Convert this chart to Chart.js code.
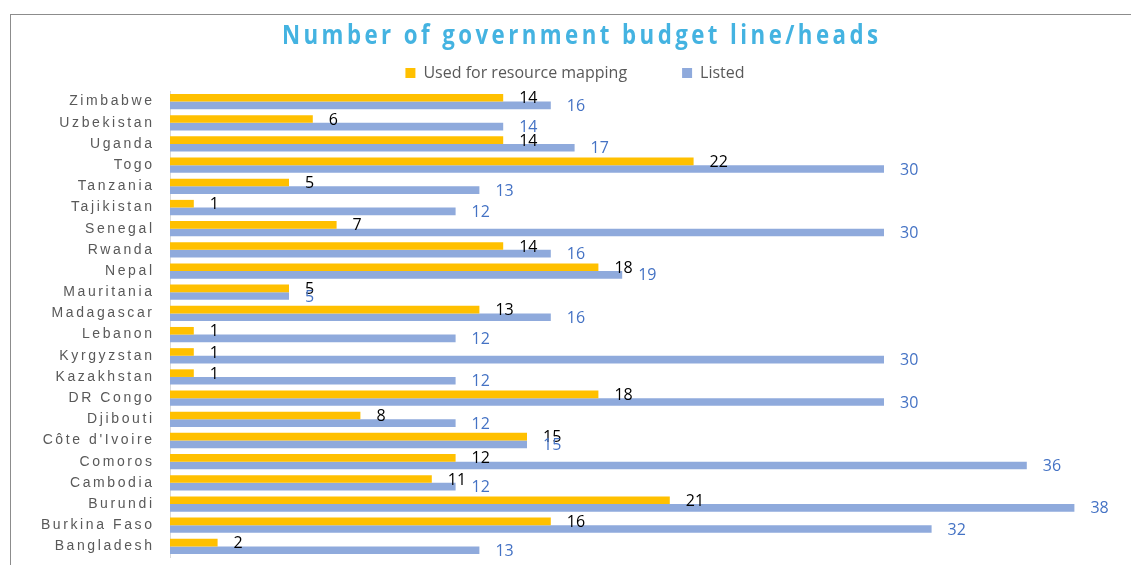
<!DOCTYPE html>
<html lang="en">
<head>
<meta charset="utf-8">
<title>Number of government budget line/heads</title>
<script src="https://cdn.jsdelivr.net/npm/chart.js@4.4.1/dist/chart.umd.min.js"></script>
<style>
  html, body { margin: 0; padding: 0; background: #fff; overflow: hidden; }
  /* thin grey frame around the chart, open on the right and bottom */
  #marco { position: absolute; left: 10px; top: 14px; width: 1200px; height: 600px;
           border-left: 1.5px solid #8c8c8c; border-top: 1.5px solid #8c8c8c; }
  #contenedor { position: absolute; left: 0; top: 0; width: 1131px; height: 565px; }
</style>
</head>
<body>
<div id="marco"></div>
<div id="contenedor"><canvas id="grafico"></canvas></div>
<script>
// Datos del grafico (de arriba hacia abajo)
const titulo = 'Number of government budget line/heads'
const paises = ['Zimbabwe', 'Uzbekistan', 'Uganda', 'Togo', 'Tanzania', 'Tajikistan', 'Senegal',
  'Rwanda', 'Nepal', 'Mauritania', 'Madagascar', 'Lebanon', 'Kyrgyzstan', 'Kazakhstan', 'DR Congo',
  'Djibouti', 'Côte d\'Ivoire', 'Comoros', 'Cambodia', 'Burundi', 'Burkina Faso', 'Bangladesh']
const usados = [14, 6, 14, 22, 5, 1, 7, 14, 18, 5, 13, 1, 1, 1, 18, 8, 15, 12, 11, 21, 16, 2]
const listados = [16, 14, 17, 30, 13, 12, 30, 16, 19, 5, 16, 12, 30, 12, 30, 12, 15, 36, 12, 38, 32, 13]
const nombresSeries = ['Used for resource mapping', 'Listed']
const ejeMaximo = 40

const coloresBarra = ['#FFC000', '#8FAADC']
const coloresEtiqueta = ['#000000', '#4472C4']

// Titulo, nombres de paises y valores al final de cada barra
const textosExtra = {
  id: 'textosExtra',
  afterDatasetsDraw(chart) {
    const ctx = chart.ctx
    ctx.save()
    ctx.font = '16px "Open Sans"'
    ctx.textAlign = 'left'
    ctx.textBaseline = 'middle'
    chart.data.datasets.forEach((ds, i) => {
      const meta = chart.getDatasetMeta(i)
      ctx.fillStyle = coloresEtiqueta[i]
      meta.data.forEach((barra, j) => {
        ctx.fillText(ds.data[j], barra.x + 16, barra.y + 1)
      })
    })
    ctx.restore()
  },
  afterDraw(chart) {
    const ctx = chart.ctx

    // titulo espaciado y algo comprimido
    ctx.save()
    ctx.font = 'bold 26px "Open Sans"'
    ctx.letterSpacing = '4px'
    ctx.fillStyle = '#44B3E1'
    ctx.textAlign = 'left'
    ctx.textBaseline = 'alphabetic'
    const ancho = ctx.measureText(titulo).width - 4
    const escala = 596 / ancho
    ctx.translate(282, 44)
    ctx.scale(escala, 1)
    ctx.fillText(titulo, 0, 0)
    ctx.restore()

    // nombres de categoria con espaciado entre letras
    const ejeY = chart.scales.y
    ctx.save()
    ctx.font = '14px "Liberation Sans"'
    ctx.letterSpacing = '2.6px'
    ctx.fillStyle = '#595959'
    ctx.textAlign = 'right'
    ctx.textBaseline = 'middle'
    paises.forEach((pais, i) => {
      ctx.fillText(pais, ejeY.right - 15.4, ejeY.getPixelForTick(i))
    })
    ctx.restore()
  }
}

function crearGrafico() {
  const datos = {
    labels: paises,
    datasets: [
      { label: nombresSeries[0], data: usados, backgroundColor: coloresBarra[0], borderWidth: 0 },
      { label: nombresSeries[1], data: listados, backgroundColor: coloresBarra[1], borderWidth: 0 }
    ]
  }

  const config = {
    type: 'bar',
    data: datos,
    options: {
      indexAxis: 'y',
      responsive: true,
      maintainAspectRatio: false,
      animation: false,
      categoryPercentage: 0.72,
      barPercentage: 1.0,
      layout: { padding: { top: 10, right: 9, bottom: 8, left: 28 } },
      scales: {
        x: { display: false, min: 0, max: ejeMaximo },
        y: {
          ticks: { display: false },
          grid: { display: false },
          border: { display: true, color: '#D9D9D9', width: 1 },
          afterFit(scale) { scale.width = 142 }
        }
      },
      plugins: {
        legend: {
          position: 'top',
          labels: {
            boxWidth: 10,
            boxHeight: 10,
            padding: 55,
            color: '#595959',
            font: { family: 'Open Sans', size: 16 }
          }
        },
        title: { display: false },
        tooltip: { enabled: true }
      }
    },
    plugins: [textosExtra]
  }

  new Chart(document.getElementById('grafico'), config)
}

window.onload = () => {
  crearGrafico()
}
</script>
</body>
</html>
